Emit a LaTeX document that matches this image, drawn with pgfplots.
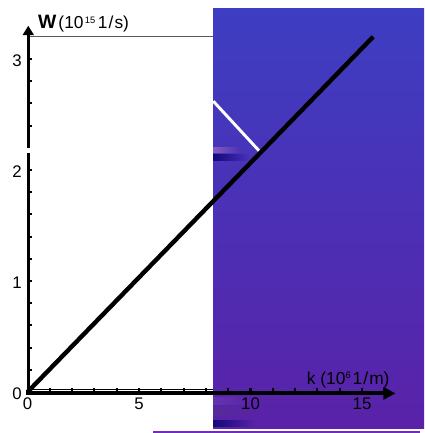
\documentclass[border=0pt]{standalone}
\usepackage{fontspec}
\setmainfont{Liberation Sans}
\usepackage{pgfplots}
\pgfplotsset{compat=1.18}
\usetikzlibrary{arrows.meta}

\definecolor{bgtop}{RGB}{61,62,194}
\definecolor{bgmid}{RGB}{73,47,184}
\definecolor{bgbot}{RGB}{89,34,168}
\definecolor{smnavy}{RGB}{18,8,120}
\definecolor{smpurp}{RGB}{100,52,176}
\definecolor{rule}{RGB}{112,44,186}

\begin{document}
\begin{tikzpicture}
\begin{axis}[
  scale only axis, width=318pt, height=324.75pt,
  xmin=-1.233, xmax=17.78, ymin=-0.369, ymax=3.5315,
  hide axis, clip=false,
]
% full drawing area
\path (rel axis cs:0,0) rectangle (rel axis cs:1,1);

% frame fragments behind the panel
\draw[gray!70!black, line width=0.7pt] (axis cs:0,3.207) -- (axis cs:8.4,3.207);
\draw[black, line width=0.6pt] (axis cs:0,0.022) -- (axis cs:8.4,0.022);

% shaded panel
\fill[top color=bgtop, middle color=bgmid, bottom color=bgbot]
  (axis cs:8.32,3.459) rectangle (axis cs:17.78,-0.324);
\shade[left color=smnavy, right color=bgmid] (axis cs:8.32,2.144) rectangle (axis cs:9.9,2.09);
\shade[left color=smpurp!80!white, right color=bgmid] (axis cs:8.32,2.20) rectangle (axis cs:9.6,2.16);
\shade[left color=smpurp, right color=bgbot] (axis cs:8.32,-0.05) rectangle (axis cs:10.2,-0.11);
\shade[left color=smpurp!85!black, right color=bgbot] (axis cs:8.32,-0.14) rectangle (axis cs:10.2,-0.20);
\shade[left color=smnavy, right color=bgbot] (axis cs:8.32,-0.255) rectangle (axis cs:10.2,-0.31);
\draw[rule, line width=1.4pt] (axis cs:5.63,-0.36) -- (axis cs:17.6,-0.36);

% axes
\draw[black, line width=3pt, -{Triangle[length=9pt,width=9pt]}]
  (axis cs:-0.05,-0.012) -- (axis cs:16.5,-0.012);
\draw[black, line width=2.6pt] (axis cs:0.035,-0.03) -- (axis cs:0.035,2.153);
\draw[black, line width=2.6pt, -{Triangle[length=7pt,width=8pt]}]
  (axis cs:0.035,2.195) -- (axis cs:0.035,3.30);
\pgfplotsinvokeforeach{1,...,16}{
  \draw[black, line width=1.6pt] (axis cs:#1,-0.012) -- (axis cs:#1,0.035);
}
\pgfplotsinvokeforeach{0.2,0.4,0.6,0.8,1,1.2,1.4,1.6,1.8,2,2.4,2.6,2.8,3}{
  \draw[black, line width=1.6pt] (axis cs:0.035,#1) -- (axis cs:0.19,#1);
}

% dispersion line
\addplot[white, line width=2.2pt, line cap=butt] coordinates {(8.33,2.62) (10.43,2.163)};
\addplot[black, line width=3.3pt, line cap=butt] coordinates {(0,0) (15.5,3.2)};

% tick labels
\pgfplotsinvokeforeach{0,5,10,15}{
  \node[anchor=north, inner sep=0pt, font=\fontsize{12.6}{14}\selectfont] at (axis cs:#1,-0.05) {#1};
}
\pgfplotsinvokeforeach{0,1,2,3}{
  \node[anchor=east, inner sep=0pt, font=\fontsize{12.6}{14}\selectfont] at (axis cs:-0.25,#1-0.015) {#1};
}

% axis titles
\node[anchor=base west, inner sep=0pt, font=\fontsize{13}{14}\selectfont] at (axis cs:0.47,3.279)
  {{\fontsize{14.5}{15}\selectfont\textbf{W}}\kern1.5pt(10\kern1pt\raisebox{3.5pt}{\fontsize{7}{7}\selectfont 15}\kern2pt 1\kern0.8pt/\kern0.8pt s)};
\node[anchor=base west, inner sep=0pt, font=\fontsize{13}{14}\selectfont] at (axis cs:12.52,0.072)
  {k (10\raisebox{4pt}{\fontsize{7}{7}\selectfont 6}\kern1.5pt 1\kern0.8pt/\kern0.8pt m)};
\end{axis}
\end{tikzpicture}
\end{document}
